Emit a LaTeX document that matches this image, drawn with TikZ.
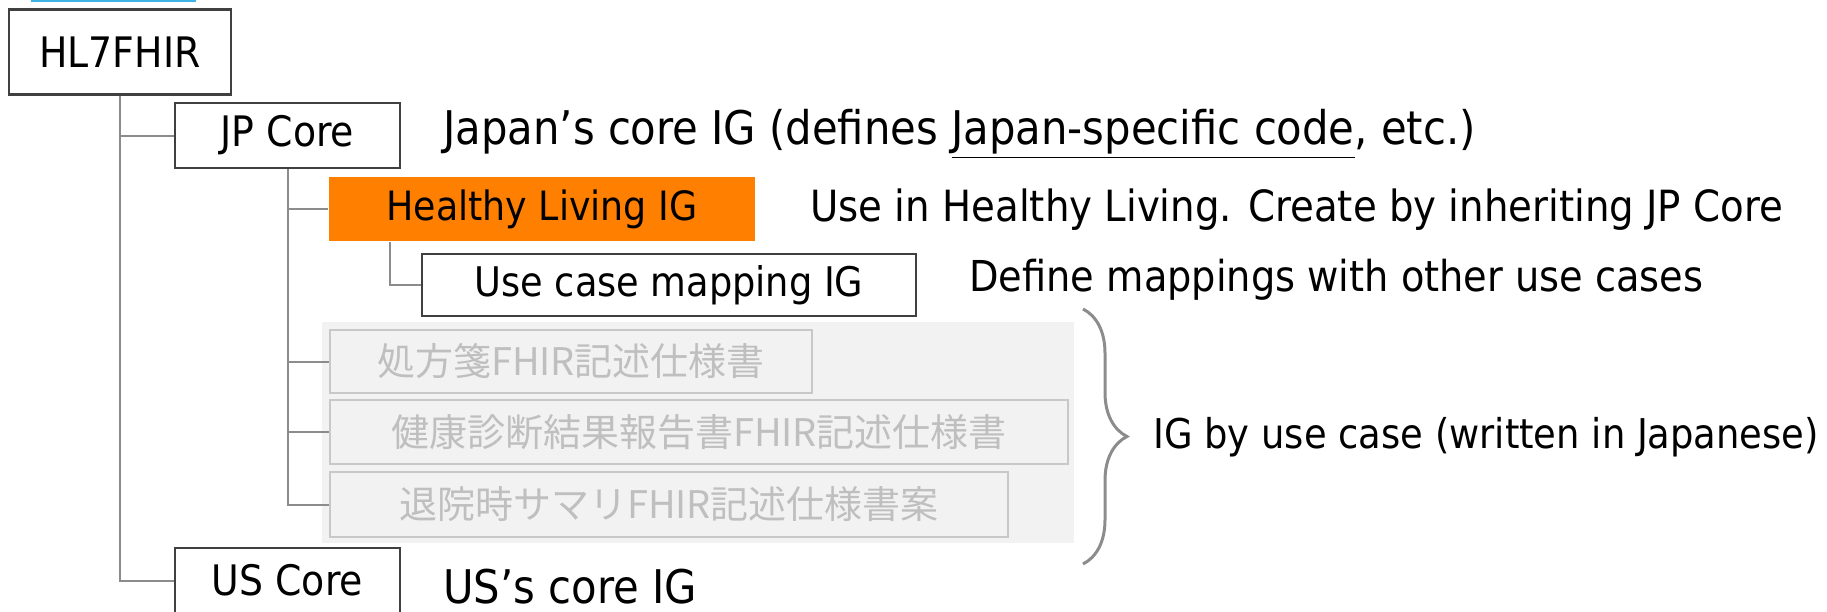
\documentclass[tikz,border=0pt]{standalone}
\usepackage{fontspec}
\setmainfont{DejaVu Sans Condensed}
\newfontfamily\jpfont{Noto Sans CJK JP}
\usetikzlibrary{decorations.pathreplacing}
\definecolor{frame}{HTML}{404040}
\definecolor{wire}{HTML}{8C8C8C}
\definecolor{hlorange}{HTML}{FF8000}
\definecolor{paleback}{HTML}{F2F2F2}
\definecolor{paleframe}{HTML}{C8C8C8}
\definecolor{paletext}{HTML}{BFBFBF}
\definecolor{linkcyan}{HTML}{3CB4E6}

\begin{document}
\begin{tikzpicture}[x=0.5pt,y=-0.5pt,
	igbox/.style={draw=frame,line width=1.2pt,inner sep=0pt,font=\fontsize{21}{24}\selectfont},
	jpbox/.style={draw=paleframe,line width=1pt,inner sep=0pt,text=paletext,font=\jpfont\fontsize{19}{22}\selectfont},
	note/.style={anchor=west,inner sep=0pt,font=\fontsize{21.3}{25}\selectfont},
	bignote/.style={note,font=\fontsize{23.2}{27}\selectfont},
	conn/.style={draw=wire,line width=1pt}]
	\useasboundingbox (0,0) rectangle (1827,611);
	\draw[linkcyan,line width=1pt] (31,0.5) -- (196,0.5);
	\fill[paleback] (322,322) rectangle (1074,543);
	\node[igbox,minimum width=111pt,minimum height=42.5pt] (HL7) at (120,52) {HL7FHIR};
	\node[igbox,minimum width=112.5pt,minimum height=32.5pt] (JP) at (287.5,135.5) {JP Core};
	\node[igbox,draw=none,fill=hlorange,minimum width=213pt,minimum height=32pt,font=\fontsize{20.2}{24}\selectfont] (HL) at (542,209) {Healthy Living IG};
	\node[igbox,minimum width=247pt,minimum height=31pt,font=\fontsize{20.4}{24}\selectfont] (UC) at (669,285) {Use case mapping IG};
	\node[jpbox,minimum width=241pt,minimum height=31.5pt] (J1) at (571,361.5) {処方箋FHIR記述仕様書};
	\node[jpbox,minimum width=369pt,minimum height=32pt] (J2) at (699,432) {健康診断結果報告書FHIR記述仕様書};
	\node[jpbox,minimum width=339pt,minimum height=32.5pt] (J3) at (669,504.5) {退院時サマリFHIR記述仕様書案};
	\node[igbox,minimum width=112.5pt,minimum height=32.5pt] (US) at (287.5,580.5) {US Core};
	\node[bignote] (JPd) at (443,134) {Japan’s core IG (defines \underline{Japan-specific code}, etc.)};
	\node[note,font=\fontsize{21.5}{25}\selectfont] (HLd) at (810,210) {Use in Healthy Living. Create by inheriting JP Core};
	\node[note] (UCd) at (969,280) {Define mappings with other use cases};
	\node[note,font=\fontsize{20.5}{24}\selectfont] (IGd) at (1153,437) {IG by use case (written in Japanese)};
	\node[bignote] (USd) at (443,587) {US’s core IG};
	\draw[conn] (HL7.south) |- (JP.west);
	\draw[conn] (HL7.south) |- (US.west);
	\draw[conn] (JP.south) |- (HL.west);
	\draw[conn] (JP.south) |- (J1.west);
	\draw[conn] (JP.south) |- (J2.west);
	\draw[conn] (JP.south) |- (J3.west);
	\draw[conn] ([xshift=31pt]HL.south west) |- (UC.west);
	\draw[wire,line width=1.5pt,decorate,decoration={brace,amplitude=22pt}] (1083,309) -- (1083,564);
\end{tikzpicture}
\end{document}
